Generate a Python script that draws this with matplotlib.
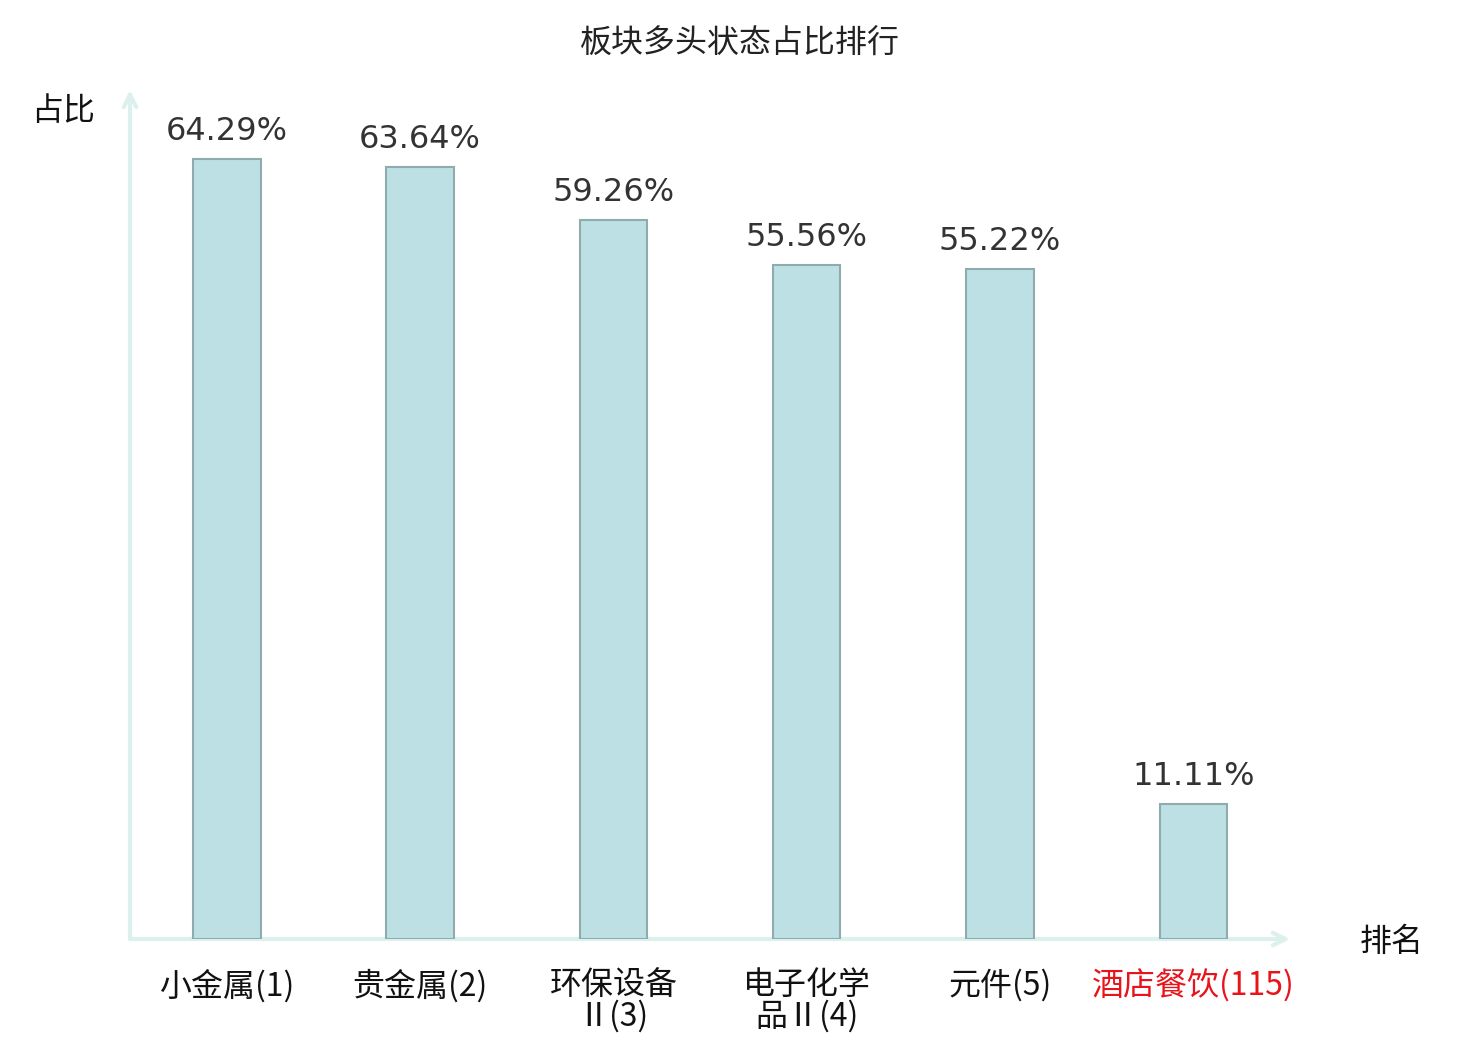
import matplotlib
matplotlib.use("Agg")
import matplotlib.pyplot as plt

plt.rcParams['font.family'] = ['Noto Sans CJK SC', 'DejaVu Sans']

# data
sectors = ['小金属(1)', '贵金属(2)', '环保设备\nⅡ(3)', '电子化学\n品Ⅱ(4)', '元件(5)', '酒店餐饮(115)']
ratios = [64.29, 63.64, 59.26, 55.56, 55.22, 11.11]
label_colors = ['#111111'] * 5 + ['#e8141c']

bar_face = '#bce0e3'
bar_edge = '#8fabad'
axis_color = '#dcf1ee'

fig = plt.figure(figsize=(14.8, 10.4), dpi=100)
ax = fig.add_axes([130 / 1480, 101 / 1040, 1160 / 1480, 849 / 1040])

x = list(range(len(sectors)))
ax.bar(x, ratios, width=0.35, color=bar_face, edgecolor=bar_edge, linewidth=1.5, zorder=3)

for xi, v in zip(x, ratios):
    ax.text(xi, v + 1.0, f'{v:.2f}%', ha='center', va='bottom', fontsize=23,
            color='#333333', family='DejaVu Sans', zorder=4)

ax.set_xlim(-0.5, 5.5)
ax.set_ylim(0, 70)
for s in ax.spines.values():
    s.set_visible(False)
ax.set_xticks([])
ax.set_yticks([])

# axis arrows
ax.annotate('', xy=(1.0, 0), xytext=(0, 0), xycoords='axes fraction',
            arrowprops=dict(arrowstyle='->, head_length=0.9, head_width=0.45',
                            color=axis_color, lw=3, shrinkA=0, shrinkB=0), zorder=1)
ax.annotate('', xy=(0, 1.0), xytext=(0, 0), xycoords='axes fraction',
            arrowprops=dict(arrowstyle='->, head_length=0.9, head_width=0.45',
                            color=axis_color, lw=3, shrinkA=0, shrinkB=0), zorder=1)

# category labels
for xi, lab, c in zip(x, sectors, label_colors):
    ax.text(xi, -2.5, lab, ha='center', va='top', fontsize=23, color=c,
            linespacing=0.95, transform=ax.transData, clip_on=False)

fig.text(740 / 1480, 1 - 44 / 1040, '板块多头状态占比排行', ha='center', va='center',
         fontsize=23, color='#222222')
fig.text(63 / 1480, 1 - 111 / 1040, '占比', ha='center', va='center', fontsize=23, color='#111111')
fig.text(1392 / 1480, 1 - 942 / 1040, '排名', ha='center', va='center', fontsize=23, color='#111111')

fig.savefig('out.png', dpi=100, facecolor='white')
